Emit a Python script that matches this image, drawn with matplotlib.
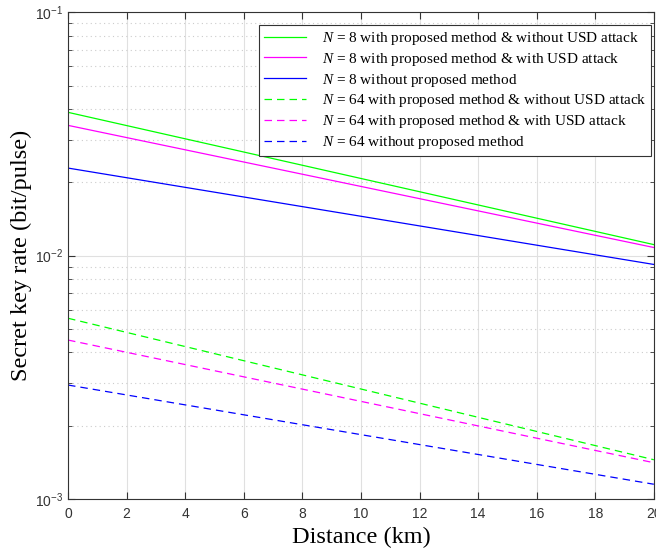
import numpy as np
import matplotlib
matplotlib.use("Agg")
import matplotlib.pyplot as plt
from matplotlib.ticker import LogLocator, NullFormatter

# distances (km) at the two ends of each curve
distance = [0, 20]

# secret key rate (bit/pulse)
n8_prop_no_usd = [0.0388, 0.0111]
n8_prop_usd = [0.0343, 0.0108]
n8_no_prop = [0.0229, 0.0092]
n64_prop_no_usd = [0.00553, 0.00145]
n64_prop_usd = [0.00450, 0.00141]
n64_no_prop = [0.00294, 0.00115]

labels = [
    r"$N$ = 8 with proposed method & without USD attack",
    r"$N$ = 8 with proposed method & with USD attack",
    r"$N$ = 8 without proposed method",
    r"$N$ = 64 with proposed method & without USD attack",
    r"$N$ = 64 with proposed method & with USD attack",
    r"$N$ = 64 without proposed method",
]

plt.rcParams["mathtext.fontset"] = "custom"
plt.rcParams["mathtext.it"] = "Liberation Serif:italic"
plt.rcParams["mathtext.rm"] = "Liberation Serif"

fig = plt.figure(figsize=(6.56, 5.5), dpi=100)
ax = fig.add_axes([0.1037, 0.0927, 0.893, 0.885])

series = [n8_prop_no_usd, n8_prop_usd, n8_no_prop,
          n64_prop_no_usd, n64_prop_usd, n64_no_prop]
colors = ["#00ff00", "#ff00ff", "#0000ff"] * 2
styles = ["-"] * 3 + ["--"] * 3
for vals, c, ls, lab in zip(series, colors, styles, labels):
    line, = ax.plot(distance, vals, color=c, lw=0.9, ls=ls, label=lab)
    if ls == "--":
        line.set_dashes((6, 4))

ax.set_yscale("log")
ax.set_xlim(0, 20)
ax.set_ylim(1e-3, 1e-1)
ax.set_xticks(np.arange(0, 21, 2))
ax.yaxis.set_major_locator(LogLocator(base=10, numticks=5))
ax.yaxis.set_minor_locator(LogLocator(base=10, subs=np.arange(2, 10), numticks=20))
ax.yaxis.set_minor_formatter(NullFormatter())

ax.grid(True, which="major", color="#e0e0e0", lw=0.8, ls="-")
ax.grid(True, which="minor", axis="y", color="#cccccc", lw=0.8, ls=(0, (1, 3)))
ax.set_axisbelow(True)

for sp in ax.spines.values():
    sp.set_color("#333333")
    sp.set_linewidth(0.8)
ax.tick_params(which="both", direction="in", top=True, right=True,
               colors="#333333", labelsize=10)
ax.tick_params(which="major", length=5)
ax.tick_params(which="minor", length=3)
for t in ax.get_xticklabels() + ax.get_yticklabels():
    t.set_fontfamily("Liberation Sans")
ax.tick_params(axis="x", pad=6)

ax.set_xlabel("Distance (km)", fontfamily="Liberation Serif", fontsize=17.5, labelpad=4)
ax.set_ylabel("Secret key rate (bit/pulse)", fontfamily="Liberation Serif", fontsize=17.5, labelpad=2)

leg = ax.legend(loc="upper right", prop={"family": "Liberation Serif", "size": 11},
                fancybox=False, framealpha=1, edgecolor="#333333",
                handlelength=2.8, handletextpad=1.0, borderpad=0.3, labelspacing=0.25,
                borderaxespad=0, bbox_to_anchor=(0.995, 0.973))
leg.get_frame().set_linewidth(0.8)

fig.savefig("out.png", dpi=100)
